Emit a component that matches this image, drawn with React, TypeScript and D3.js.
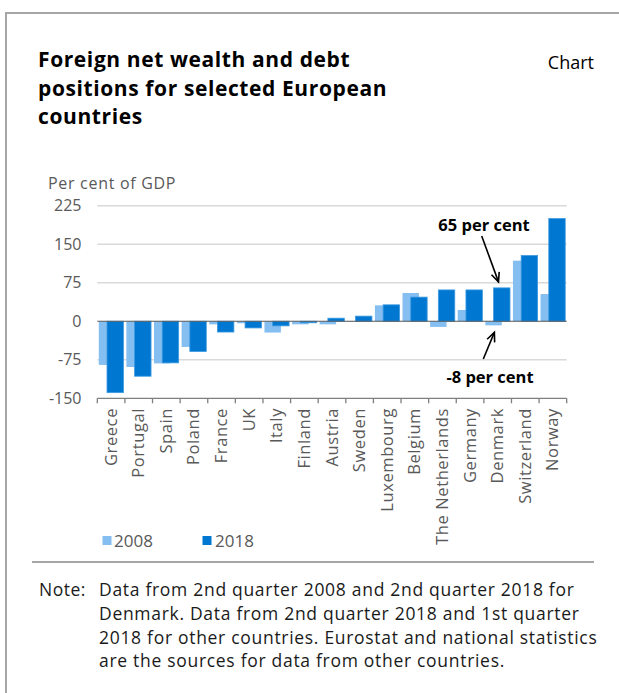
import React from "react";
import * as d3 from "d3";

const countries = ["Greece","Portugal","Spain","Poland","France","UK","Italy","Finland","Austria","Sweden","Luxembourg","Belgium","The Netherlands","Germany","Denmark","Switzerland","Norway"];
const values2008 = [-85,-89,-82,-50,-6,-4,-22,-6,-6,-1,31,55,-11,22,-8,118,53];
const values2018 = [-139,-107,-81,-59,-21,-13,-9,-3,6,10,32,47,61,61,65,128,200];
const yTicks = [-150,-75,0,75,150,225];
const titleLines = ["Foreign net wealth and debt","positions for selected European","countries"];
const noteLines = ["Data from 2nd quarter 2008 and 2nd quarter 2018 for","Denmark. Data from 2nd quarter 2018 and 1st quarter","2018 for other countries. Eurostat and national statistics","are the sources for data from other countries."];

const LIGHT = "#85bef0";
const DARK = "#0078d2";
const FONT = "'Open Sans', 'Noto Sans', sans-serif";
const GREY = "#595959";

export default function App() {
  const x = d3.scaleBand<string>().domain(countries).range([97.3, 566.7]).padding(0);
  const y = d3.scaleLinear().domain([-150, 225]).range([398.3, 205.7]);
  const bw = x.bandwidth();
  const w = bw * 0.595;
  const off = w * 0.5;
  const pad = (bw - w - off) / 2;

  const dk = "Denmark";
  const di = countries.indexOf(dk);
  const headTopX = (x(dk) as number) + pad + off + w * 0.3;
  const headTopY = y(values2018[di]) - 6;
  const headBotX = (x(dk) as number) + pad + w * 0.55;
  const headBotY = y(values2008[di]) + 7;

  const arrow = (x1: number, y1: number, x2: number, y2: number) => {
    const ang = Math.atan2(y2 - y1, x2 - x1);
    const L = 10, a = 0.42;
    const p1 = [x2 - L * Math.cos(ang - a), y2 - L * Math.sin(ang - a)];
    const p2 = [x2 - L * Math.cos(ang + a), y2 - L * Math.sin(ang + a)];
    return (
      <g stroke="#000" strokeWidth={1.6} fill="none">
        <line x1={x1} y1={y1} x2={x2} y2={y2} />
        <polyline points={`${p1[0]},${p1[1]} ${x2},${y2} ${p2[0]},${p2[1]}`} />
      </g>
    );
  };

  return (
    <div style={{ position: "absolute", left: 0, top: 0 }}>
      <svg width={619} height={693} style={{ display: "block", fontFamily: FONT }}>
        <rect x={0} y={0} width={619} height={693} fill="#fff" />
        {/* frame */}
        <line x1={6} y1={13} x2={619} y2={13} stroke="#a6a6a6" strokeWidth={2} />
        <line x1={6} y1={12} x2={6} y2={693} stroke="#a6a6a6" strokeWidth={2} />

        {titleLines.map((t, i) => (
          <text key={i} x={38} y={67 + i * 28.5} fontSize={21} fontWeight={700} letterSpacing={0.6} fill="#000">{t}</text>
        ))}
        <text x={594} y={69} fontSize={18} textAnchor="end" fill="#000">Chart</text>

        <text x={48} y={189} fontSize={16} letterSpacing={0.7} fill={GREY}>Per cent of GDP</text>

        {/* gridlines */}
        {yTicks.filter(v => v !== 0 && v !== -150).map(v => (
          <line key={v} x1={97.3} x2={566.7} y1={y(v)} y2={y(v)} stroke="#d9d9d9" strokeWidth={1.5} />
        ))}
        {yTicks.map(v => (
          <text key={v} x={81.5} y={y(v) + 5.5} fontSize={16} textAnchor="end" fill={GREY}>{v}</text>
        ))}

        {/* bars */}
        {countries.map((c, i) => {
          const v = values2008[i];
          const x0 = (x(c) as number) + pad;
          return <rect key={"a" + c} x={x0} y={Math.min(y(v), y(0))} width={w} height={Math.abs(y(v) - y(0))} fill={LIGHT} />;
        })}
        {countries.map((c, i) => {
          const v = values2018[i];
          const x0 = (x(c) as number) + pad + off;
          return <rect key={"b" + c} x={x0} y={Math.min(y(v), y(0))} width={w} height={Math.abs(y(v) - y(0))} fill={DARK} stroke="#3d9ae0" strokeWidth={0.8} />;
        })}

        {/* zero line */}
        <line x1={97.3} x2={566.7} y1={y(0)} y2={y(0)} stroke={GREY} strokeWidth={1.2} />
        {/* bottom axis */}
        <line x1={97.3} x2={566.7} y1={y(-150)} y2={y(-150)} stroke="#7f7f7f" strokeWidth={1.3} />
        {[...countries.map(c => x(c) as number), 566.7].map((t, i) => (
          <line key={i} x1={t} x2={t} y1={y(-150)} y2={y(-150) + 5} stroke="#7f7f7f" strokeWidth={1.3} />
        ))}
        {countries.map(c => {
          const cx = (x(c) as number) + bw / 2 + 5.5;
          return (
            <text key={c} transform={`translate(${cx},408) rotate(-90)`} fontSize={16.5} letterSpacing={0.6} textAnchor="end" fill={GREY}>{c}</text>
          );
        })}

        {/* annotations */}
        <text x={484} y={231} fontSize={16.5} fontWeight={700} textAnchor="middle" fill="#000">65 per cent</text>
        {arrow(481.7, 236, headTopX, headTopY)}
        <text x={490} y={383} fontSize={16.5} fontWeight={700} textAnchor="middle" fill="#000">-8 per cent</text>
        {arrow(483.3, 359, headBotX, headBotY)}

        {/* legend */}
        <rect x={102.5} y={536} width={9} height={9} fill={LIGHT} />
        <text x={114} y={547} fontSize={17} fill={GREY}>2008</text>
        <rect x={202.5} y={536} width={9} height={9} fill={DARK} />
        <text x={215} y={547} fontSize={17} fill={GREY}>2018</text>

        {/* separator */}
        <line x1={32} x2={594} y1={562} y2={562} stroke="#a6a6a6" strokeWidth={2} />

        <text x={39} y={596} fontSize={17.5} letterSpacing={0.5} fill="#1a1a1a">Note:</text>
        {noteLines.map((t, i) => (
          <text key={i} x={99} y={596 + i * 23.8} fontSize={17.5} letterSpacing={0.7} fill="#1a1a1a">{t}</text>
        ))}
      </svg>
    </div>
  );
}
